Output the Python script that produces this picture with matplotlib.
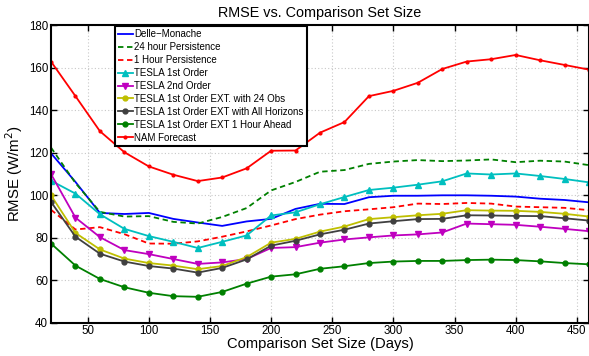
import matplotlib
matplotlib.use("Agg")
import matplotlib.pyplot as plt

plt.rcParams["font.family"] = ["Liberation Sans", "DejaVu Sans"]

days = [20, 40, 60, 80, 100, 120, 140, 160, 180, 200, 220, 240,
        260, 280, 300, 320, 340, 360, 380, 400, 420, 440, 460]

delle_monache = [119.8, 106.3, 91.7, 91.2, 91.7, 88.9, 87.2, 85.6, 87.7, 88.9, 93.6, 96.0,
                 95.9, 99.1, 99.8, 99.8, 100.0, 100.0, 99.8, 99.4, 98.4, 97.8, 96.7]
persist_24h = [122.5, 105.8, 92.2, 90.0, 90.2, 87.5, 86.7, 89.8, 94.0, 102.3, 106.3, 111.1,
               111.9, 114.8, 115.9, 116.6, 116.1, 116.4, 116.9, 115.6, 116.3, 115.9, 114.2]
persist_1h = [93.2, 83.9, 85.0, 81.7, 77.3, 77.2, 78.3, 80.5, 83.0, 85.8, 88.8, 90.9,
              92.5, 93.4, 94.4, 96.1, 95.9, 96.4, 96.1, 94.7, 94.4, 94.1, 93.0]
tesla_1st = [106.9, 100.8, 91.1, 84.2, 80.8, 78.1, 75.2, 78.1, 81.1, 90.5, 92.0, 95.8,
             99.2, 102.5, 103.6, 105.0, 106.6, 110.3, 109.8, 110.3, 109.1, 107.7, 106.1]
tesla_2nd = [110.0, 89.5, 80.3, 74.2, 72.3, 70.0, 67.7, 68.4, 70.0, 75.2, 75.6, 77.7,
             79.2, 80.2, 81.1, 81.6, 82.5, 86.7, 86.4, 86.1, 85.2, 84.2, 83.1]
ext_24obs = [100.0, 82.3, 74.5, 70.2, 68.1, 66.9, 65.2, 66.7, 70.9, 77.7, 79.5, 82.9,
             85.3, 88.8, 89.7, 90.6, 91.3, 93.0, 92.8, 92.7, 92.2, 91.3, 90.0]
ext_all_hor = [96.9, 80.5, 72.5, 68.8, 66.7, 65.5, 63.6, 65.8, 69.8, 76.3, 78.6, 81.6,
               83.8, 86.7, 87.8, 88.8, 88.9, 90.6, 90.5, 90.3, 90.2, 89.2, 88.1]
ext_1h = [77.3, 66.9, 60.6, 56.7, 54.1, 52.5, 52.2, 54.5, 58.4, 61.7, 62.8, 65.4,
          66.6, 68.1, 68.8, 69.1, 69.1, 69.5, 69.7, 69.5, 68.9, 68.1, 67.5]
nam = [163.0, 146.7, 130.2, 120.3, 113.6, 109.7, 106.7, 108.4, 112.7, 121.0, 121.1, 129.5,
       134.5, 146.7, 149.2, 153.0, 159.5, 163.0, 164.1, 166.1, 163.6, 161.4, 159.2]

series = [
    (delle_monache, "Delle\u2212Monache", dict(color="#0000ff", ls="-", marker=None)),
    (persist_24h, "24 hour Persistence", dict(color="#008000", ls=(0, (3, 2)), marker=None)),
    (persist_1h, "1 Hour Persistence", dict(color="#ff0000", ls=(0, (3, 2)), marker=None)),
    (tesla_1st, "TESLA 1st Order", dict(color="#00bfbf", ls="-", marker="^", ms=4)),
    (tesla_2nd, "TESLA 2nd Order", dict(color="#bf00bf", ls="-", marker="v", ms=4)),
    (ext_24obs, "TESLA 1st Order EXT. with 24 Obs", dict(color="#bfbf00", ls="-", marker="o", ms=3.5)),
    (ext_all_hor, "TESLA 1st Order EXT with All Horizons", dict(color="#404040", ls="-", marker="o", ms=3.5)),
    (ext_1h, "TESLA 1st Order EXT 1 Hour Ahead", dict(color="#008000", ls="-", marker="o", ms=3.5)),
    (nam, "NAM Forecast", dict(color="#ff0000", ls="-", marker=".", ms=4)),
]

fig = plt.figure(figsize=(5.89, 3.56), dpi=100)
ax = fig.add_axes([0.0866, 0.0935, 0.9134, 0.835])

for vals, label, st in series:
    ax.plot(days, vals, label=label, lw=1.3, **st)

ax.set_xlim(20, 460)
ax.set_ylim(40, 180)
ax.set_xticks(range(50, 451, 50))
ax.set_yticks(range(40, 181, 20))
ax.grid(True, color="#c8c8c8", ls=(0, (1, 2)), lw=0.8)
ax.tick_params(direction="in", top=True, right=True, labelsize=8.3, length=4, width=1, pad=2)
for s in ax.spines.values():
    s.set_linewidth(1.5)

ax.set_xlabel("Comparison Set Size (Days)", fontsize=10.6, labelpad=0)
ax.set_ylabel("RMSE (W/m$^2$)", fontsize=10.8, labelpad=3)
ax.set_title("RMSE vs. Comparison Set Size", fontsize=10.4, pad=6)

leg = ax.legend(loc="upper left", bbox_to_anchor=(0.119, 0.997), borderaxespad=0,
                fontsize=7, labelspacing=0.3, handlelength=1.5, handletextpad=0.2,
                borderpad=0.3, fancybox=False, framealpha=1)
leg.get_frame().set_edgecolor("black")
leg.get_frame().set_linewidth(1.5)

fig.savefig("out.png", dpi=100)
